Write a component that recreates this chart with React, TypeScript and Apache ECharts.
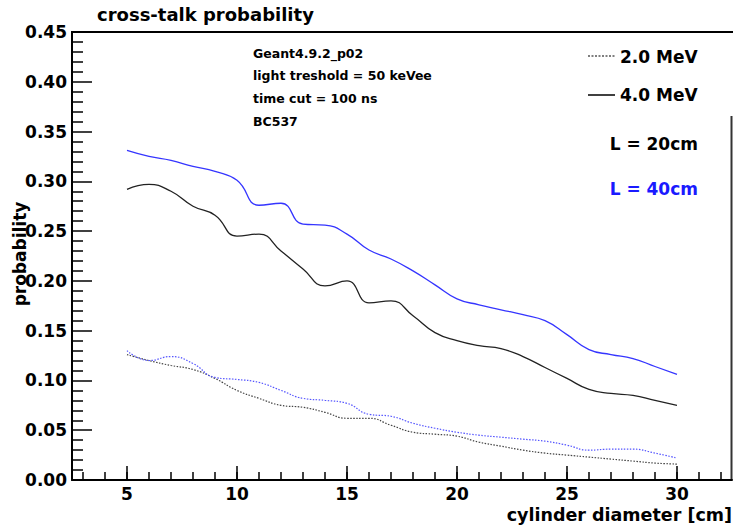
import React, { useEffect, useRef } from "react";
import * as echarts from "echarts";

const diameters = [5, 6, 7, 8, 9, 10, 11, 12, 13, 14, 15, 16, 17, 18, 19, 20, 21, 22, 23, 24, 25, 26, 27, 28, 29, 30];

const black4MeV = [0.292, 0.297, 0.290, 0.275, 0.266, 0.245, 0.247, 0.230, 0.212, 0.195, 0.200, 0.178, 0.180, 0.165, 0.148, 0.140, 0.135, 0.132, 0.124, 0.113, 0.102, 0.091, 0.087, 0.085, 0.080, 0.075];
const blue4MeV = [0.331, 0.325, 0.321, 0.315, 0.310, 0.301, 0.276, 0.278, 0.257, 0.256, 0.247, 0.231, 0.222, 0.210, 0.196, 0.182, 0.176, 0.171, 0.166, 0.160, 0.146, 0.131, 0.126, 0.122, 0.114, 0.106];
const blue2MeV = [0.130, 0.120, 0.124, 0.117, 0.103, 0.101, 0.098, 0.090, 0.082, 0.080, 0.077, 0.066, 0.064, 0.057, 0.052, 0.048, 0.045, 0.043, 0.041, 0.039, 0.035, 0.030, 0.031, 0.031, 0.027, 0.022];
const black2MeV = [0.126, 0.120, 0.115, 0.111, 0.102, 0.090, 0.082, 0.075, 0.073, 0.068, 0.062, 0.062, 0.055, 0.048, 0.046, 0.044, 0.038, 0.034, 0.030, 0.027, 0.025, 0.023, 0.021, 0.019, 0.017, 0.016];

const xMajorTicks = [5, 10, 15, 20, 25, 30];
const xMinorTicks = [3, 4, 5, 6, 7, 8, 9, 10, 11, 12, 13, 14, 15, 16, 17, 18, 19, 20, 21, 22, 23, 24, 25, 26, 27, 28, 29, 30, 31, 32];

const titleText = "cross-talk probability";
const yAxisName = "probability";
const xAxisName = "cylinder diameter [cm]";
const infoLines = ["Geant4.9.2_p02", "light treshold = 50 keVee", "time cut = 100 ns", "BC537"];
const legendEnergy = ["2.0 MeV", "4.0 MeV"];
const legendLength = ["L = 20cm", "L = 40cm"];

const FONT = "'DejaVu Sans', 'Liberation Sans', sans-serif";
const BLUE = "#3535ff";

export default function App() {
  const ref = useRef<HTMLDivElement>(null);
  useEffect(() => {
    document.body.style.margin = "0";
    const chart = echarts.init(ref.current!, undefined, { renderer: "svg" });
    const pair = (ys: number[]) => diameters.map((x, i) => [x, ys[i]]);
    const infoY = [53, 75, 98, 121];
    chart.setOption({
      animation: false,
      backgroundColor: "#ffffff",
      grid: { left: 72, top: 32, right: 1, bottom: 52, containLabel: false, outerBoundsMode: "none" },
      xAxis: [
        {
          type: "value",
          min: 2.5,
          max: 32.5,
          position: "bottom",
          axisLine: { show: true, lineStyle: { color: "#000", width: 2 } },
          axisTick: { show: true, inside: true, length: 8, customValues: xMinorTicks, lineStyle: { color: "#000", width: 1.5 } },
          axisLabel: { show: true, customValues: xMajorTicks, margin: 5, fontFamily: FONT, fontWeight: "bold", fontSize: 17, color: "#000" },
          splitLine: { show: false },
        },
        {
          type: "value",
          min: 2.5,
          max: 32.5,
          position: "bottom",
          offset: 0,
          axisLine: { show: false },
          axisTick: { show: true, inside: true, length: 14, customValues: xMajorTicks, lineStyle: { color: "#000", width: 1.5 } },
          axisLabel: { show: false },
          splitLine: { show: false },
        },
      ],
      yAxis: {
        type: "value",
        min: 0,
        max: 0.45,
        interval: 0.05,
        axisLine: { show: true, lineStyle: { color: "#000", width: 2 } },
        axisTick: { show: true, inside: true, length: 20, lineStyle: { color: "#000", width: 1.5 } },
        minorTick: { show: true, splitNumber: 5, length: 11, lineStyle: { color: "#000", width: 1.5 } },
        axisLabel: {
          margin: 5,
          fontFamily: FONT,
          fontWeight: "bold",
          fontSize: 17,
          color: "#000",
          formatter: (v: number) => v.toFixed(2),
        },
        splitLine: { show: false },
      },
      series: [
        {
          name: "4.0 MeV, L = 20cm",
          type: "line",
          data: pair(black4MeV),
          smooth: 0.5,
          showSymbol: false,
          lineStyle: { color: "#222", width: 1.3 },
        },
        {
          name: "4.0 MeV, L = 40cm",
          type: "line",
          data: pair(blue4MeV),
          smooth: 0.5,
          showSymbol: false,
          lineStyle: { color: BLUE, width: 1.3 },
        },
        {
          name: "2.0 MeV, L = 20cm",
          type: "line",
          data: pair(black2MeV),
          smooth: 0.5,
          showSymbol: false,
          lineStyle: { color: "#444", width: 1.2, type: [1.5, 1.5] },
        },
        {
          name: "2.0 MeV, L = 40cm",
          type: "line",
          data: pair(blue2MeV),
          smooth: 0.5,
          showSymbol: false,
          lineStyle: { color: "#5555ff", width: 1.2, type: [1.5, 1.5] },
        },
      ],
      graphic: [
        { type: "line", shape: { x1: 71, y1: 32, x2: 733, y2: 32 }, style: { stroke: "#000", lineWidth: 2 } },
        { type: "line", shape: { x1: 731.5, y1: 116, x2: 731.5, y2: 480 }, style: { stroke: "#333", lineWidth: 2 } },
        {
          type: "text",
          x: 97,
          y: 14,
          style: { text: titleText, fontFamily: FONT, fontWeight: "bold", fontSize: 18, fill: "#000", verticalAlign: "middle" },
        },
        {
          type: "text",
          x: 20,
          y: 254,
          rotation: Math.PI / 2,
          style: { text: yAxisName, fontFamily: FONT, fontWeight: "bold", fontSize: 17, fill: "#000", align: "center", verticalAlign: "middle" },
        },
        ...infoLines.map((t, i) => ({
          type: "text",
          x: 253,
          y: infoY[i],
          style: { text: t, fontFamily: FONT, fontWeight: "bold", fontSize: 12.5, fill: "#000", verticalAlign: "middle" },
        })),
        { type: "line", shape: { x1: 588, y1: 56, x2: 615, y2: 56 }, style: { stroke: "#000", lineWidth: 1.2, lineDash: [2, 1.5] } },
        { type: "line", shape: { x1: 588, y1: 95, x2: 615, y2: 95 }, style: { stroke: "#000", lineWidth: 1.5 } },
        {
          type: "text",
          x: 620,
          y: 57,
          style: { text: legendEnergy[0], fontFamily: FONT, fontWeight: "bold", fontSize: 17, fill: "#000", verticalAlign: "middle" },
        },
        {
          type: "text",
          x: 620,
          y: 95,
          style: { text: legendEnergy[1], fontFamily: FONT, fontWeight: "bold", fontSize: 17, fill: "#000", verticalAlign: "middle" },
        },
        {
          type: "text",
          x: 698,
          y: 144,
          style: { text: legendLength[0], fontFamily: FONT, fontWeight: "bold", fontSize: 17, fill: "#000", align: "right", verticalAlign: "middle" },
        },
        {
          type: "text",
          x: 698,
          y: 189,
          style: { text: legendLength[1], fontFamily: FONT, fontWeight: "bold", fontSize: 17, fill: "#1a1aff", align: "right", verticalAlign: "middle" },
        },
        {
          type: "text",
          x: 732,
          y: 515,
          style: { text: xAxisName, fontFamily: FONT, fontWeight: "bold", fontSize: 17.5, fill: "#000", align: "right", verticalAlign: "middle" },
        },
      ],
    });
    return () => chart.dispose();
  }, []);
  return <div ref={ref} style={{ width: 733, height: 532 }} />;
}
